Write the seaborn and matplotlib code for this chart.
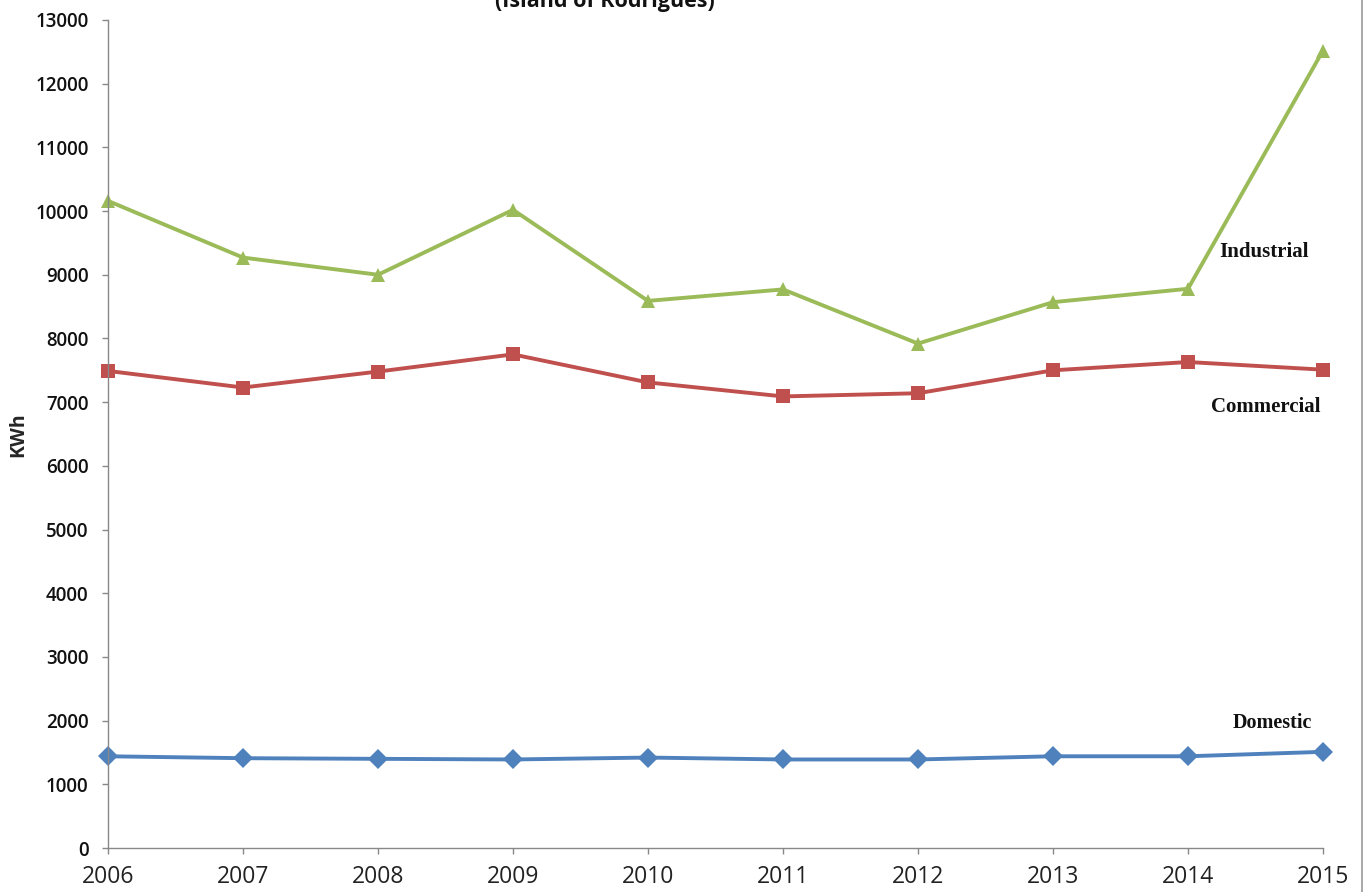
import matplotlib
matplotlib.use("Agg")
import matplotlib.pyplot as plt
import seaborn as sns
import pandas as pd
from matplotlib.lines import Line2D

years = [2006, 2007, 2008, 2009, 2010, 2011, 2012, 2013, 2014, 2015]
industrial = [10160, 9270, 9000, 10020, 8590, 8770, 7920, 8570, 8780, 12520]
commercial = [7490, 7230, 7480, 7750, 7310, 7090, 7140, 7500, 7630, 7510]
domestic = [1440, 1410, 1400, 1390, 1420, 1390, 1390, 1440, 1440, 1510]

series_names = ["Industrial", "Commercial", "Domestic"]
series_colors = {"Industrial": "#9BBB59", "Commercial": "#C0504D", "Domestic": "#4F81BD"}
series_markers = {"Industrial": "^", "Commercial": "s", "Domestic": "D"}

df = pd.DataFrame({
    "Year": years * 3,
    "KWh": industrial + commercial + domestic,
    "Sector": [n for n in series_names for _ in years],
})

sns.set_style("white")
plt.rcParams["font.family"] = ["Open Sans", "DejaVu Sans"]

fig = plt.figure(figsize=(13.65, 8.92), dpi=100)
ax = fig.add_axes([108 / 1365, 1 - 848 / 892, (1323 - 108) / 1365, (848 - 20) / 892])

sns.lineplot(
    data=df, x="Year", y="KWh", hue="Sector", style="Sector",
    palette=series_colors, markers=series_markers, dashes=False,
    markersize=10, linewidth=2.8, markeredgewidth=0, legend=False, ax=ax,
)
for line in ax.lines:
    line.set_clip_on(False)

ax.set_xlim(2006, 2015)
ax.set_ylim(0, 13000)
ax.set_xticks(years)
ax.set_xticklabels([str(y) for y in years], fontsize=16.5, color="#222222")
ax.set_yticks(range(0, 13001, 1000))
ax.set_yticklabels([str(v) for v in range(0, 13001, 1000)], fontsize=13.5,
                   fontweight="semibold", color="#111111")
ax.tick_params(axis="both", direction="out", length=4.5, width=1, color="#888888",
               left=True, bottom=True)
ax.tick_params(axis="y", pad=9.5)
ax.tick_params(axis="x", pad=8)
ax.set_xlabel("")
ax.set_ylabel("KWh", fontsize=14, fontweight="bold")
ax.yaxis.set_label_coords(-0.066, 0.499)

for side in ("top", "right"):
    ax.spines[side].set_visible(False)
for side in ("left", "bottom"):
    ax.spines[side].set_color("#888888")
    ax.spines[side].set_linewidth(1)

label_font = ["Liberation Serif", "DejaVu Serif"]
ax.text(2014.23, 9360, "Industrial", fontsize=15, fontweight="bold",
        family=label_font, ha="left", va="center", color="#111111")
ax.text(2014.17, 6925, "Commercial", fontsize=15, fontweight="bold",
        family=label_font, ha="left", va="center", color="#111111")
ax.text(2014.33, 1965, "Domestic", fontsize=14.5, fontweight="bold",
        family=label_font, ha="left", va="center", color="#111111")

fig.text(605 / 1365, 1 - 2 / 892, "(Island of Rodrigues)", fontsize=15.5,
         fontweight="bold", ha="center", va="center", color="#111111")

fig.add_artist(Line2D([1362 / 1365, 1362 / 1365], [0, 1], color="#999999", linewidth=1.2))

fig.savefig("out.png", dpi=100)
